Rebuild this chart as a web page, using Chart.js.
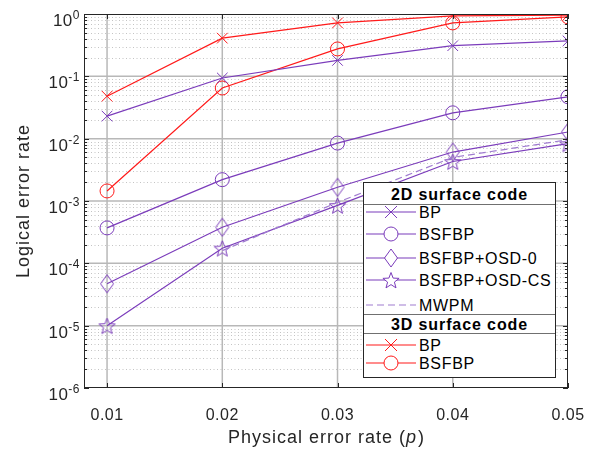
<!DOCTYPE html>
<html>
<head>
<meta charset="utf-8">
<script src="https://cdn.jsdelivr.net/npm/chart.js@4.4.0/dist/chart.umd.min.js"></script>
<style>
body { margin: 0; background: #fff; }
#wrap { position: relative; width: 607px; height: 449px; }
#legend { position: absolute; left: 363px; top: 182px; width: 193px; height: 196px; border: 1px solid #262626;
  background: #fff; box-sizing: border-box; font-family: 'Liberation Sans', Arial, sans-serif; font-size: 16px; color: #000; }
#legend .hd { position: absolute; left: 0; width: 100%; text-align: center; font-weight: bold; line-height: 18px; letter-spacing: 0.9px; }
#legend .sep { position: absolute; left: 0; width: 100%; border-top: 1.5px solid #707070; }
#legend .row { position: absolute; left: 0; height: 20px; width: 100%; }
#legend .row svg { position: absolute; left: 1px; top: 0; }
#legend .row span { position: absolute; left: 55px; top: 1px; line-height: 19px; letter-spacing: 0.7px; white-space: nowrap; }
</style>
</head>
<body>
<div id="wrap">
  <canvas id="chart" width="607" height="449"></canvas>
  <div id="legend"></div>
</div>
<script>
// x values (physical error rate)
const pRates = [0.01, 0.02, 0.03, 0.04, 0.05];
const xTicks = [0.01, 0.02, 0.03, 0.04, 0.05];

// 2D surface code
const bp2d = [0.023, 0.094, 0.18, 0.31, 0.37];
const bsfbp2d = [3.7e-4, 2.2e-3, 8.5e-3, 0.026, 0.047];
const osd0 = [4.7e-5, 3.8e-4, 1.66e-3, 6.1e-3, 0.0128];
const osdcs = [1.0e-5, 1.75e-4, 8.5e-4, 4.3e-3, 8.3e-3];
const mwpmX = [0.02, 0.03, 0.04, 0.05];
const mwpm = [1.6e-4, 9.5e-4, 5.0e-3, 9.6e-3];

// 3D surface code
const bp3d = [0.048, 0.41, 0.72, 0.93, 0.96];
const bsfbp3d = [1.45e-3, 0.065, 0.275, 0.72, 0.9];

const purple = '#7B3CBB';
const purpleLight = '#A07CD0';
const red = '#FF1A1A';
const FONT = "'Liberation Sans', Arial, sans-serif";

function pts(xs, ys) { return xs.map((x, i) => ({ x: x, y: ys[i] })); }

function starImg(color) {
  const c = document.createElement('canvas');
  c.width = 19; c.height = 19;
  const g = c.getContext('2d');
  g.strokeStyle = color; g.lineWidth = 1;
  g.beginPath();
  for (let i = 0; i < 10; i++) {
    const r = i % 2 === 0 ? 8.5 : 3.6;
    const a = -Math.PI / 2 + i * Math.PI / 5;
    const x = 9.5 + r * Math.cos(a), y = 10.5 + r * Math.sin(a);
    i === 0 ? g.moveTo(x, y) : g.lineTo(x, y);
  }
  g.closePath(); g.stroke();
  return c;
}
function diamondImg(color) {
  const c = document.createElement('canvas');
  c.width = 16; c.height = 21;
  const g = c.getContext('2d');
  g.strokeStyle = color; g.lineWidth = 1;
  g.beginPath();
  g.moveTo(8, 1.5); g.lineTo(14.5, 10.5); g.lineTo(8, 19.5); g.lineTo(1.5, 10.5); g.closePath();
  g.stroke();
  return c;
}

function ds(label, xs, ys, color, style, radius, dash) {
  return {
    label: label, data: pts(xs, ys), borderColor: color, backgroundColor: 'rgba(0,0,0,0)',
    borderWidth: 1.2, pointStyle: style, pointRadius: radius, pointBorderColor: color,
    pointBorderWidth: 1, pointBackgroundColor: 'rgba(0,0,0,0)', borderDash: dash || [],
    tension: 0, fill: false
  };
}

const datasets = [
  ds('MWPM', mwpmX, mwpm, purpleLight, false, 0, [7, 4]),
  ds('BP 2D', pRates, bp2d, purple, 'crossRot', 7.5),
  ds('BSFBP 2D', pRates, bsfbp2d, purple, 'circle', 7),
  ds('BSFBP+OSD-0', pRates, osd0, purple, diamondImg(purple), 8),
  ds('BSFBP+OSD-CS', pRates, osdcs, purple, starImg(purple), 8),
  ds('BP 3D', pRates, bp3d, red, 'crossRot', 7.5),
  ds('BSFBP 3D', pRates, bsfbp3d, red, 'circle', 7)
];

const axesPlugin = {
  id: 'axesPlugin',
  beforeDatasetsDraw(chart) {
    const ctx = chart.ctx, a = chart.chartArea;
    const xs = chart.scales.x, ys = chart.scales.y;
    ctx.save();
    // minor dotted grid
    ctx.strokeStyle = '#c4c4c4'; ctx.lineWidth = 1; ctx.setLineDash([1, 2.5]);
    for (let d = -6; d < 0; d++) {
      for (let k = 2; k <= 9; k++) {
        const y = Math.round(ys.getPixelForValue(k * Math.pow(10, d))) + 0.5;
        ctx.beginPath(); ctx.moveTo(a.left, y); ctx.lineTo(a.right, y); ctx.stroke();
      }
    }
    ctx.setLineDash([]);
    ctx.strokeStyle = '#b8b8b8'; ctx.lineWidth = 1.5;
    for (let d = -5; d < 0; d++) {
      const y = ys.getPixelForValue(Math.pow(10, d));
      ctx.beginPath(); ctx.moveTo(a.left, y); ctx.lineTo(a.right, y); ctx.stroke();
    }
    xTicks.forEach(v => {
      const x = xs.getPixelForValue(v);
      if (x > a.left + 1 && x < a.right - 1) {
        ctx.beginPath(); ctx.moveTo(x, a.top); ctx.lineTo(x, a.bottom); ctx.stroke();
      }
    });
    ctx.restore();
  },
  afterDraw(chart) {
    const ctx = chart.ctx, a = chart.chartArea;
    const xs = chart.scales.x, ys = chart.scales.y;
    ctx.save();
    ctx.strokeStyle = '#262626'; ctx.lineWidth = 1;
    ctx.strokeRect(a.left + 0.5, a.top + 0.5, a.right - a.left - 1, a.bottom - a.top - 1);
    // y ticks inward, both sides
    for (let d = -6; d <= 0; d++) {
      for (let k = 1; k <= 9; k++) {
        const v = k * Math.pow(10, d);
        if (v > 1) break;
        const y = Math.round(ys.getPixelForValue(v)) + 0.5;
        const len = k === 1 ? 5 : 3;
        ctx.beginPath();
        ctx.moveTo(a.left, y); ctx.lineTo(a.left + len, y);
        ctx.moveTo(a.right, y); ctx.lineTo(a.right - len, y);
        ctx.stroke();
      }
    }
    // x ticks inward, top and bottom
    xTicks.forEach(v => {
      const x = Math.round(xs.getPixelForValue(v)) + 0.5;
      ctx.beginPath();
      ctx.moveTo(x, a.bottom); ctx.lineTo(x, a.bottom - 5);
      ctx.moveTo(x, a.top); ctx.lineTo(x, a.top + 5);
      ctx.stroke();
    });
    // tick labels
    ctx.fillStyle = '#262626';
    ctx.letterSpacing = '0.5px';
    ctx.font = '16px ' + FONT;
    ctx.textAlign = 'center'; ctx.textBaseline = 'alphabetic';
    xTicks.forEach(v => {
      ctx.fillText(v.toFixed(2), xs.getPixelForValue(v), 420);
    });
    for (let d = -6; d <= 0; d++) {
      const y = ys.getPixelForValue(Math.pow(10, d));
      const exp = String(d);
      ctx.font = '12px ' + FONT;
      const ew = ctx.measureText(exp).width;
      ctx.textAlign = 'right';
      ctx.fillText(exp, 80, y + 5);
      ctx.font = '17px ' + FONT;
      ctx.fillText('10', 80 - ew, y + 12);
    }
    // axis titles
    ctx.letterSpacing = '1px';
    ctx.font = '18px ' + FONT;
    ctx.textAlign = 'left';
    const t1 = 'Physical error rate (', t2 = 'p', t3 = ')';
    const w1 = ctx.measureText(t1).width;
    ctx.font = 'italic 18px ' + FONT;
    const w2 = ctx.measureText(t2).width;
    ctx.font = '18px ' + FONT;
    const w3 = ctx.measureText(t3).width;
    let sx = (a.left + a.right) / 2 - (w1 + w2 + w3) / 2;
    ctx.fillText(t1, sx, 443);
    ctx.font = 'italic 18px ' + FONT;
    ctx.fillText(t2, sx + w1, 443);
    ctx.font = '18px ' + FONT;
    ctx.fillText(t3, sx + w1 + w2 + 1, 443);
    ctx.translate(29, (a.top + a.bottom) / 2);
    ctx.rotate(-Math.PI / 2);
    ctx.textAlign = 'center';
    ctx.fillText('Logical error rate', 0, 0);
    ctx.restore();
  }
};

new Chart(document.getElementById('chart'), {
  type: 'line',
  data: { datasets: datasets },
  options: {
    responsive: false,
    animation: false,
    layout: { padding: { left: 84, top: 14, right: 39, bottom: 61 } },
    plugins: { legend: { display: false }, tooltip: { enabled: false } },
    scales: {
      x: { type: 'linear', min: 0.008, max: 0.05, display: false },
      y: { type: 'logarithmic', min: 1e-6, max: 1, display: false }
    }
  },
  plugins: [axesPlugin]
});

// legend (HTML)
const legend = document.getElementById('legend');
function svgMarker(color, kind, dashed) {
  let m = '';
  if (kind === 'x') m = `<line x1="20" y1="4" x2="32" y2="16" stroke="${color}"/><line x1="32" y1="4" x2="20" y2="16" stroke="${color}"/>`;
  if (kind === 'o') m = `<circle cx="26" cy="10" r="7" fill="white" stroke="${color}"/>`;
  if (kind === 'd') m = `<polygon points="26,1 32.5,10 26,19 19.5,10" fill="white" stroke="${color}"/>`;
  if (kind === 's') {
    let p = [];
    for (let i = 0; i < 10; i++) {
      const r = i % 2 === 0 ? 8.5 : 3.6, ang = -Math.PI / 2 + i * Math.PI / 5;
      p.push((26 + r * Math.cos(ang)).toFixed(2) + ',' + (11 + r * Math.sin(ang)).toFixed(2));
    }
    m = `<polygon points="${p.join(' ')}" fill="white" stroke="${color}"/>`;
  }
  const dash = dashed ? 'stroke-dasharray="7,4"' : '';
  return `<svg width="52" height="20"><line x1="1" y1="10" x2="51" y2="10" stroke="${color}" stroke-width="1.2" ${dash}/>${m}</svg>`;
}
const legendRows = [
  { hd: '2D surface code', y: 3 },
  { sep: 21 },
  { label: 'BP', color: purple, kind: 'x', y: 19 },
  { label: 'BSFBP', color: purple, kind: 'o', y: 41 },
  { label: 'BSFBP+OSD-0', color: purple, kind: 'd', y: 65 },
  { label: 'BSFBP+OSD-CS', color: purple, kind: 's', y: 87 },
  { label: 'MWPM', color: purpleLight, kind: '', dashed: true, y: 112 },
  { sep: 131 },
  { hd: '3D surface code', y: 133 },
  { sep: 150 },
  { label: 'BP', color: red, kind: 'x', y: 152 },
  { label: 'BSFBP', color: red, kind: 'o', y: 170 }
];
legendRows.forEach(r => {
  const el = document.createElement('div');
  if (r.hd) { el.className = 'hd'; el.style.top = r.y + 'px'; el.textContent = r.hd; }
  else if (r.sep !== undefined) { el.className = 'sep'; el.style.top = r.sep + 'px'; }
  else {
    el.className = 'row'; el.style.top = r.y + 'px';
    el.innerHTML = svgMarker(r.color, r.kind, r.dashed) + '<span>' + r.label + '</span>';
  }
  legend.appendChild(el);
});
</script>
</body>
</html>
